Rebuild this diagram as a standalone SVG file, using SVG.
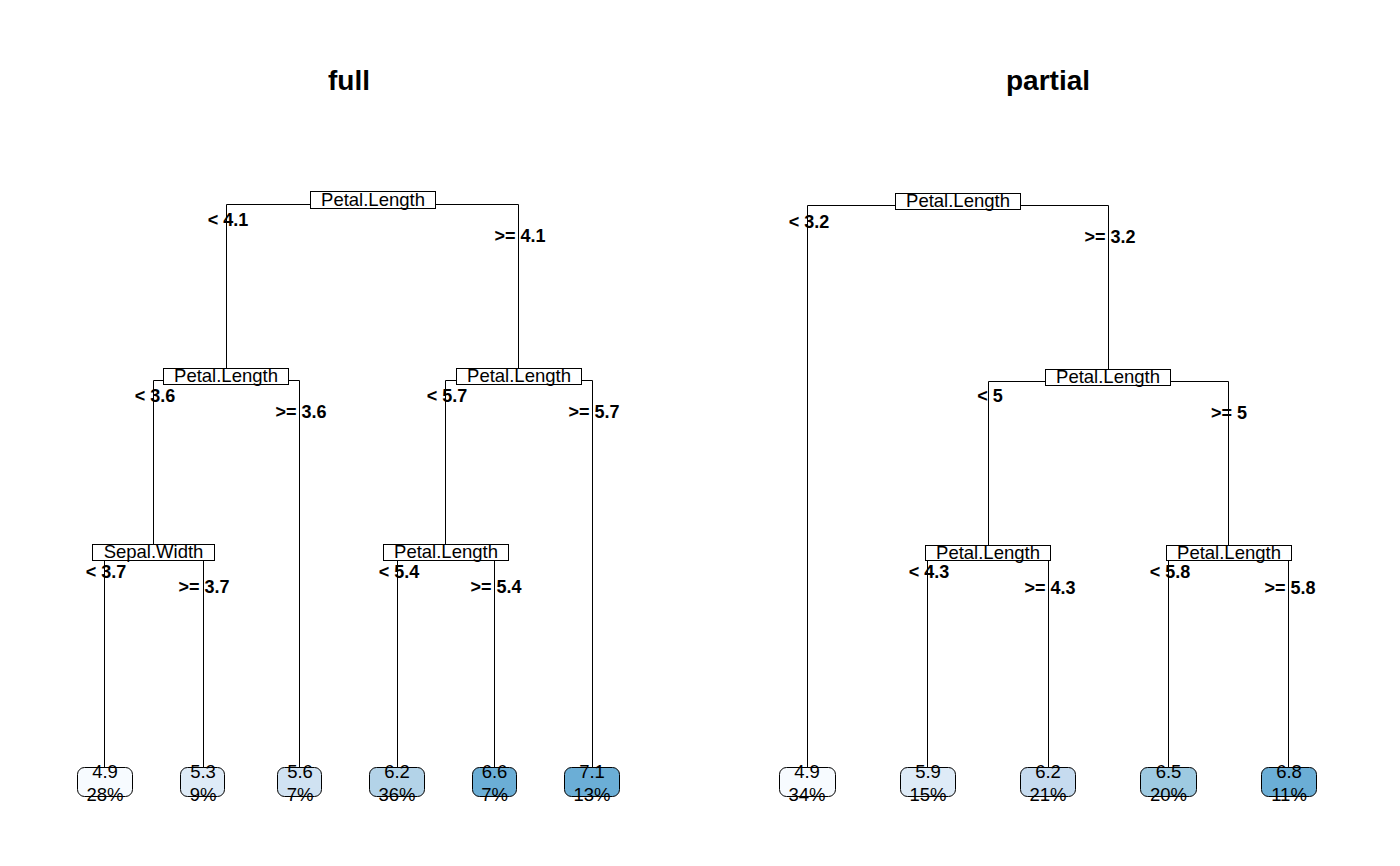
<svg xmlns="http://www.w3.org/2000/svg" width="1400" height="866" viewBox="0 0 1400 866">
<style>
text{font-family:"Liberation Sans",Arial,sans-serif;fill:#000}
.title{font-size:28px;font-weight:bold;text-anchor:middle}
.nl{font-size:18.5px;text-anchor:middle}
.el{font-size:18px;font-weight:bold;text-anchor:middle}
.lf{font-size:18.5px;text-anchor:middle}
.nb{fill:#fff;stroke:#000;stroke-width:1}
.lb{stroke:#000;stroke-width:1}
.cn{fill:none;stroke:#000;stroke-width:1}
</style>
<rect width="1400" height="866" fill="#fff"/>
<text class="title" x="349" y="90">full</text>
<text class="title" x="1048" y="90">partial</text>

<g id="connectors">
<!-- full -->
<path class="cn" d="M226.5,368 V204.5 H518.5 V368"/>
<path class="cn" d="M153.5,545 V380.5 H299.5 V767"/>
<path class="cn" d="M445.5,545 V380.5 H592.5 V767"/>
<path class="cn" d="M104.5,767 V556.5 H203.5 V767"/>
<path class="cn" d="M397.5,767 V556.5 H494.5 V767"/>
<!-- partial -->
<path class="cn" d="M807.5,767 V205.5 H1108.5 V369"/>
<path class="cn" d="M988.5,545 V381.5 H1228.5 V545"/>
<path class="cn" d="M927.5,767 V556.5 H1048.5 V767"/>
<path class="cn" d="M1168.5,767 V556.5 H1288.5 V767"/>
</g>

<g id="edge-labels">
<text class="el" x="228" y="226">&lt; 4.1</text>
<text class="el" x="520" y="242">&gt;= 4.1</text>
<text class="el" x="155" y="402">&lt; 3.6</text>
<text class="el" x="301" y="418">&gt;= 3.6</text>
<text class="el" x="447" y="402">&lt; 5.7</text>
<text class="el" x="594" y="418">&gt;= 5.7</text>
<text class="el" x="106" y="578">&lt; 3.7</text>
<text class="el" x="204" y="593">&gt;= 3.7</text>
<text class="el" x="399" y="578">&lt; 5.4</text>
<text class="el" x="496" y="593">&gt;= 5.4</text>
<text class="el" x="809" y="228">&lt; 3.2</text>
<text class="el" x="1110" y="243">&gt;= 3.2</text>
<text class="el" x="990" y="402">&lt; 5</text>
<text class="el" x="1229" y="419">&gt;= 5</text>
<text class="el" x="929" y="578">&lt; 4.3</text>
<text class="el" x="1050" y="594">&gt;= 4.3</text>
<text class="el" x="1170" y="578">&lt; 5.8</text>
<text class="el" x="1290" y="594">&gt;= 5.8</text>
</g>

<!-- full tree nodes -->
<g id="full-n1"><rect class="nb" x="310.5" y="191.5" width="125" height="17"/><text class="nl" x="373" y="205.5">Petal.Length</text></g>
<g id="full-n2"><rect class="nb" x="163.5" y="368.5" width="125" height="16"/><text class="nl" x="226" y="382">Petal.Length</text></g>
<g id="full-n3"><rect class="nb" x="456.5" y="368.5" width="125" height="16"/><text class="nl" x="519" y="382">Petal.Length</text></g>
<g id="full-n4"><rect class="nb" x="92.5" y="544.5" width="122" height="16"/><text class="nl" x="153.5" y="558">Sepal.Width</text></g>
<g id="full-n6"><rect class="nb" x="383.5" y="544.5" width="125" height="16"/><text class="nl" x="446" y="558">Petal.Length</text></g>

<g id="full-leaf1"><rect class="lb" x="77.5" y="767.5" width="55" height="29" rx="7" fill="#F7FBFF"/><text class="lf" x="105" y="778">4.9</text><text class="lf" x="105" y="801">28%</text></g>
<g id="full-leaf2"><rect class="lb" x="180.5" y="767.5" width="44" height="29" rx="7" fill="#DEEBF7"/><text class="lf" x="203" y="778">5.3</text><text class="lf" x="203" y="801">9%</text></g>
<g id="full-leaf3"><rect class="lb" x="277.5" y="767.5" width="44" height="29" rx="7" fill="#D0E2F2"/><text class="lf" x="300" y="778">5.6</text><text class="lf" x="300" y="801">7%</text></g>
<g id="full-leaf4"><rect class="lb" x="369.5" y="767.5" width="55" height="29" rx="7" fill="#B3D3E8"/><text class="lf" x="397" y="778">6.2</text><text class="lf" x="397" y="801">36%</text></g>
<g id="full-leaf5"><rect class="lb" x="472.5" y="767.5" width="44" height="29" rx="7" fill="#6BAED6"/><text class="lf" x="494.5" y="778">6.6</text><text class="lf" x="494.5" y="801">7%</text></g>
<g id="full-leaf6"><rect class="lb" x="564.5" y="767.5" width="55" height="29" rx="7" fill="#6BAED6"/><text class="lf" x="592" y="778">7.1</text><text class="lf" x="592" y="801">13%</text></g>

<!-- partial tree nodes -->
<g id="partial-n1"><rect class="nb" x="895.5" y="193.5" width="125" height="16"/><text class="nl" x="958" y="207">Petal.Length</text></g>
<g id="partial-n3"><rect class="nb" x="1045.5" y="369.5" width="125" height="16"/><text class="nl" x="1108" y="383">Petal.Length</text></g>
<g id="partial-n6"><rect class="nb" x="925.5" y="545.5" width="125" height="15"/><text class="nl" x="988" y="558.5">Petal.Length</text></g>
<g id="partial-n7"><rect class="nb" x="1166.5" y="545.5" width="125" height="15"/><text class="nl" x="1229" y="558.5">Petal.Length</text></g>

<g id="partial-leaf1"><rect class="lb" x="779.5" y="767.5" width="56" height="29" rx="7" fill="#F7FBFF"/><text class="lf" x="807" y="778">4.9</text><text class="lf" x="807" y="801">34%</text></g>
<g id="partial-leaf2"><rect class="lb" x="900.5" y="767.5" width="55" height="29" rx="7" fill="#DEEBF7"/><text class="lf" x="928" y="778">5.9</text><text class="lf" x="928" y="801">15%</text></g>
<g id="partial-leaf3"><rect class="lb" x="1020.5" y="767.5" width="55" height="29" rx="7" fill="#C6DBEF"/><text class="lf" x="1048" y="778">6.2</text><text class="lf" x="1048" y="801">21%</text></g>
<g id="partial-leaf4"><rect class="lb" x="1140.5" y="767.5" width="56" height="29" rx="7" fill="#9ECAE1"/><text class="lf" x="1168.5" y="778">6.5</text><text class="lf" x="1168.5" y="801">20%</text></g>
<g id="partial-leaf5"><rect class="lb" x="1261.5" y="767.5" width="55" height="29" rx="7" fill="#6BAED6"/><text class="lf" x="1289" y="778">6.8</text><text class="lf" x="1289" y="801">11%</text></g>
</svg>
